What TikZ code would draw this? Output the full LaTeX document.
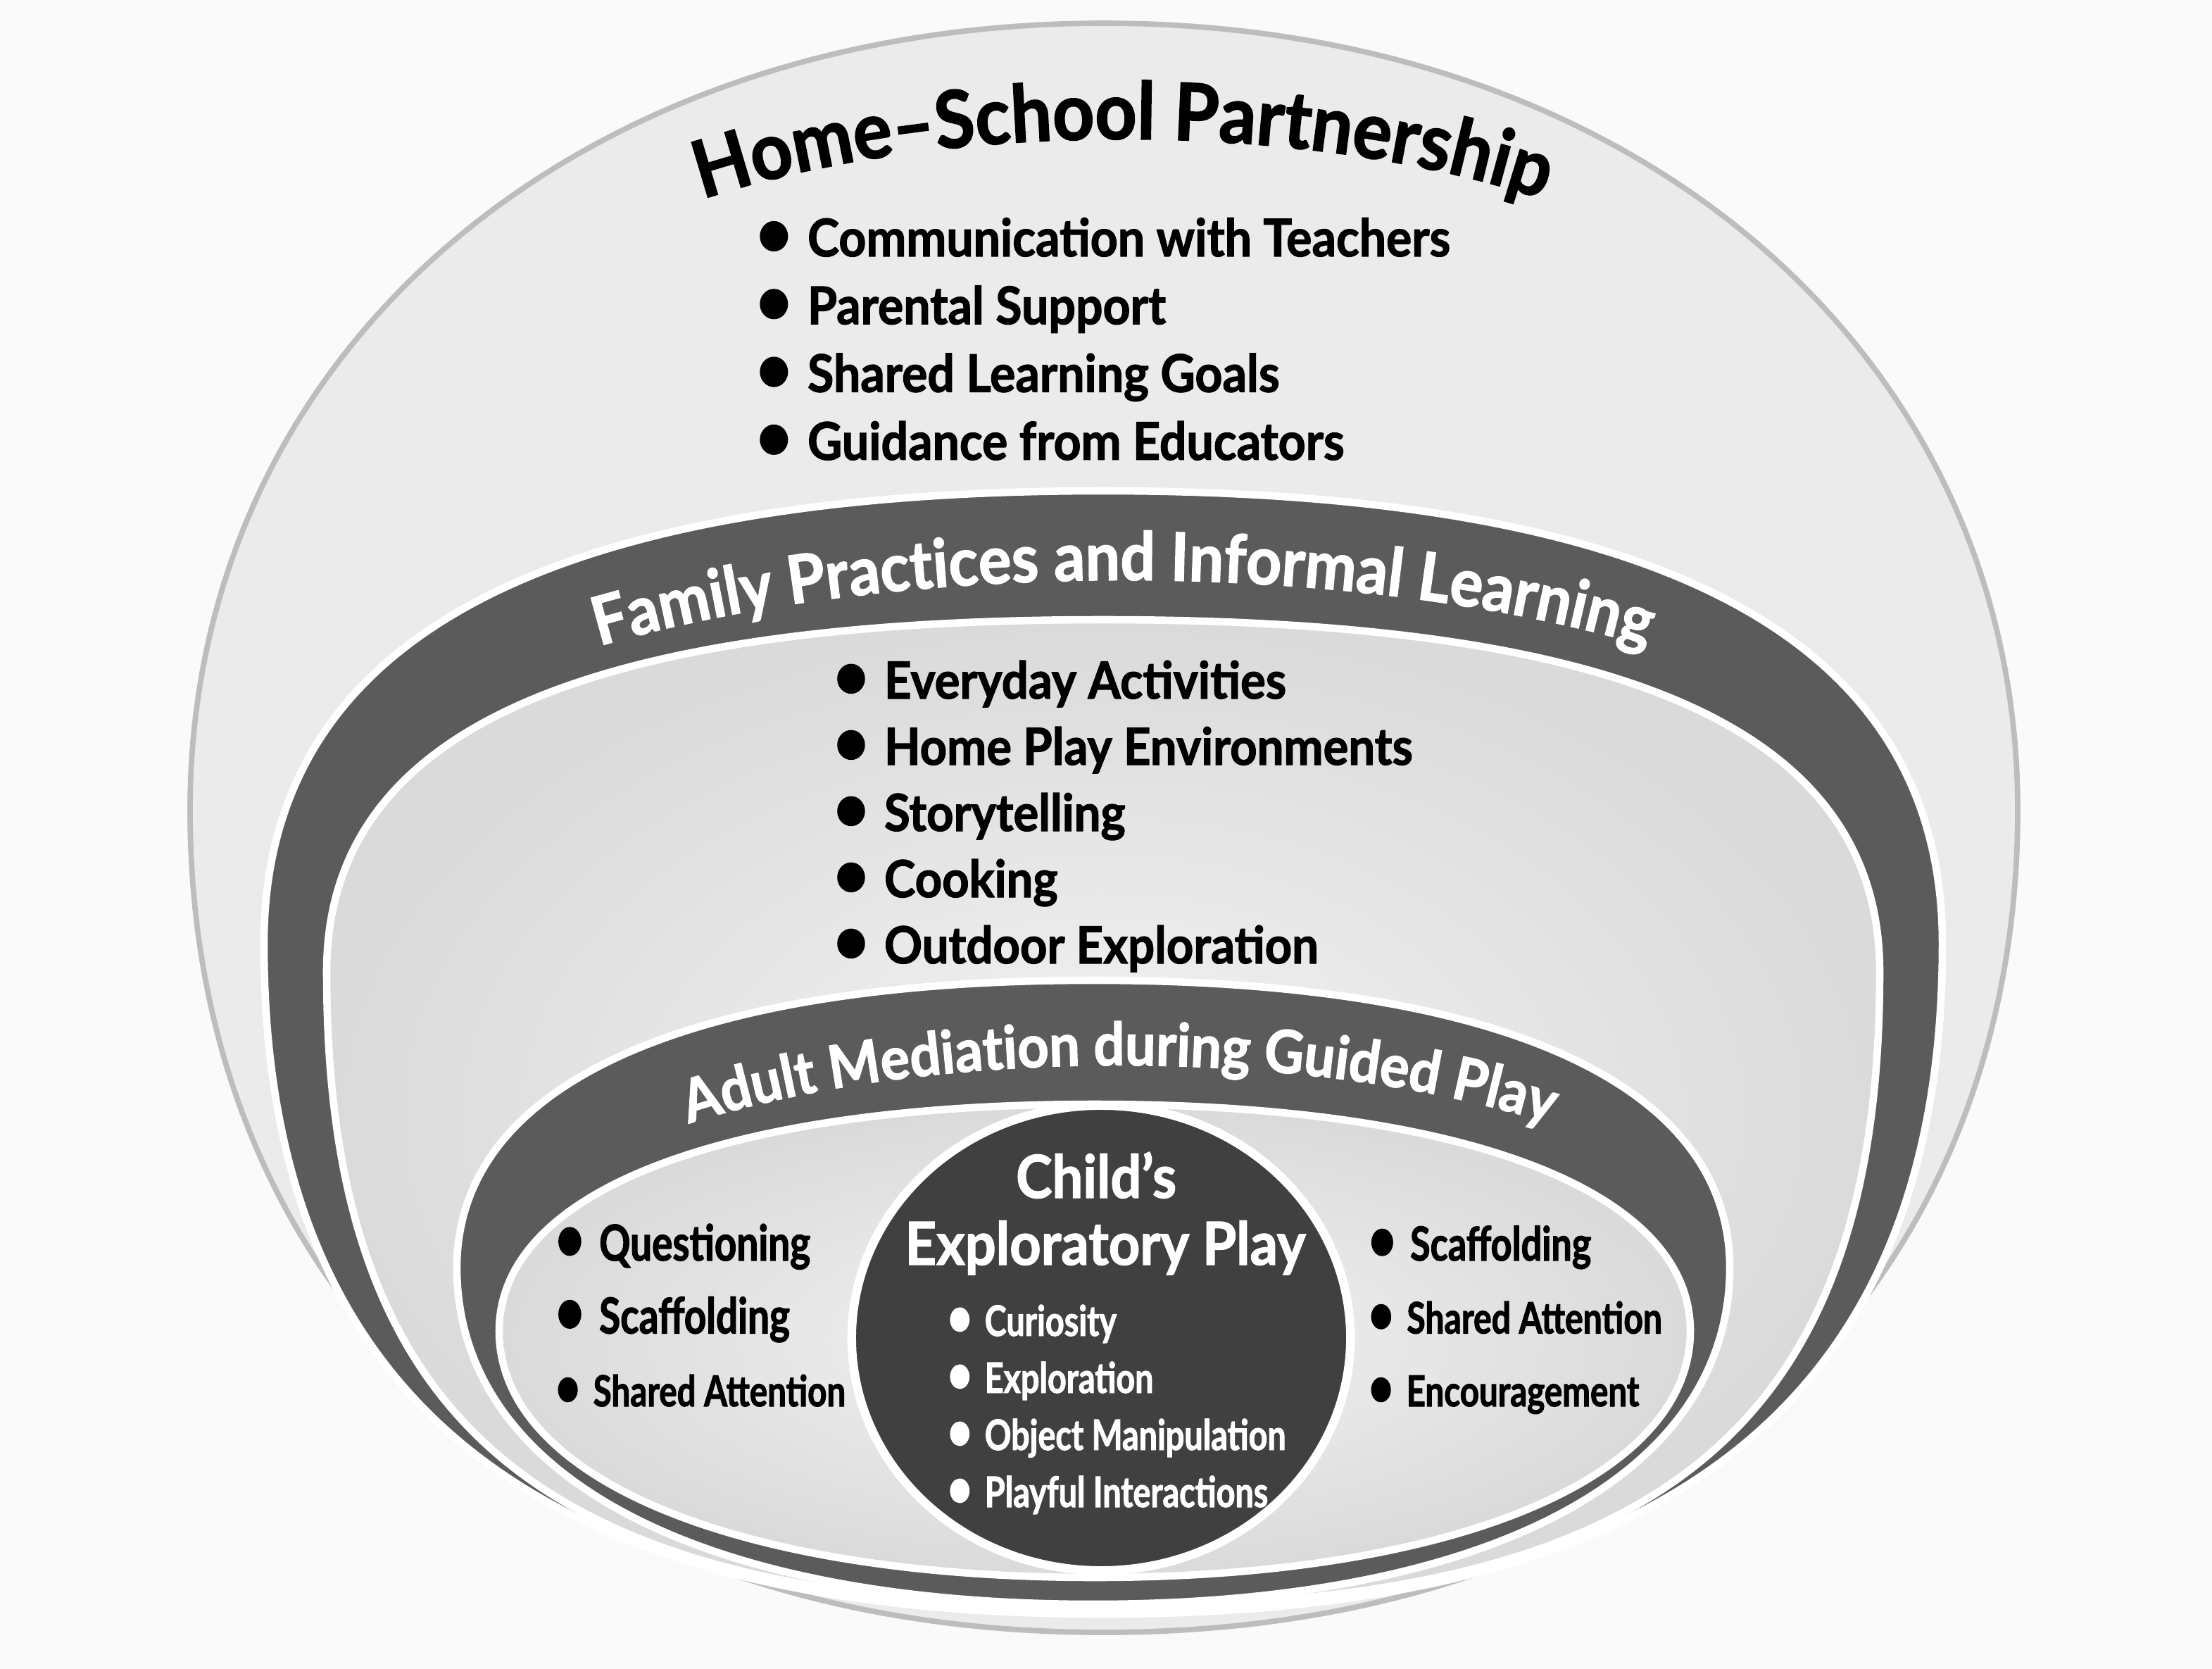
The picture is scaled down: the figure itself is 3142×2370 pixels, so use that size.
\documentclass[tikz,border=0pt]{standalone}
\usepackage{graphicx}
\usepackage{fontspec}
\setmainfont{Lato}[FakeStretch=0.92,BoldFeatures={FakeBold=1.6}]
\newfontfamily\narrowfont{Lato}[FakeStretch=0.78,BoldFeatures={FakeBold=1.6}]
\usetikzlibrary{shapes.geometric,decorations.text}

\definecolor{bgwhite}{HTML}{FAFAFA}
\definecolor{hsfill}{HTML}{EBEBEB}
\definecolor{hsedge}{HTML}{BDBDBD}
\definecolor{bandgray}{HTML}{5B5B5B}
\definecolor{lightin}{HTML}{F4F4F4}
\definecolor{lightout}{HTML}{DADADA}
\definecolor{childgray}{HTML}{404040}

\newcommand{\hsfont}{\fontsize{32}{38}\selectfont\bfseries}
\newcommand{\fpfont}{\fontsize{27}{32}\selectfont\bfseries}
\newcommand{\amfont}{\fontsize{24}{29}\selectfont\bfseries}
\newcommand{\bul}{\scalebox{1.3}{•}\hspace{0.3em}}

% egg: cx, top, widest, bottom, rx, k top, k bottom
\newcommand{\eggpath}[7]{({#1-#5},#3) .. controls ({#1-#5},{#3-#6*(#3-#2)}) and ({#1-#6*#5},#2) .. (#1,#2)
  .. controls ({#1+#6*#5},#2) and ({#1+#5},{#3-#6*(#3-#2)}) .. ({#1+#5},#3)
  .. controls ({#1+#5},{#3+#7*(#4-#3)}) and ({#1+#7*#5},#4) .. (#1,#4)
  .. controls ({#1-#7*#5},#4) and ({#1-#5},{#3+#7*(#4-#3)}) .. cycle}

\begin{document}
\begin{tikzpicture}[x=0.01cm,y=-0.01cm]
        \tikzstyle{band}=[fill=bandgray,draw=white,line width=3pt]
        \tikzstyle{inner}=[inner color=lightin,outer color=lightout,draw=white,line width=3pt]
        \tikzstyle{item}=[anchor=base west,inner sep=0pt,text=black,font=\fontsize{21}{25}\selectfont\bfseries]
        \tikzstyle{sideitem}=[item,font=\fontsize{\fs}{22}\selectfont\narrowfont\bfseries]
        \tikzstyle{whiteitem}=[item,text=white,font=\fontsize{17}{20}\selectfont\narrowfont\bfseries]
        \tikzstyle{childtitle}=[anchor=base,inner sep=0pt,text=white,font=\fontsize{24}{29}\selectfont\bfseries]

        \useasboundingbox (0,0) rectangle (3142,2370);
        \fill[bgwhite] (0,0) rectangle (3142,2370);

        % rings, outside in
        \filldraw[fill=hsfill,draw=hsedge,line width=2.2pt] \eggpath{1568}{33}{1150}{2318}{1298}{0.58}{0.6};
        \path[band] \eggpath{1567}{697}{1340}{2292}{1192}{0.67}{0.68};
        \path[inner] \eggpath{1567}{880}{1380}{2282}{1103}{0.68}{0.72};
        \path[band] \eggpath{1553}{1392}{1800}{2278}{904}{0.64}{0.62};
        \path[inner] \eggpath{1555}{1568}{1890}{2240}{846}{0.62}{0.6};
        \node[ellipse,fill=childgray,draw=white,line width=3.5pt,minimum width=7.08cm,minimum height=6.6cm] (child) at (1564,1900) {};

        % titles
        \path[decorate,decoration={text along path,text align=center,text={|\hsfont|Home–School Partnership}}]
                (925,310) .. controls (1290,160) and (1900,160) .. (2265,310);
        \path[decorate,decoration={text along path,text align=center,text={|\fpfont\color{white}|Family Practices and Informal Learning}}]
                (780,940) .. controls (1230,785) and (1960,785) .. (2410,940);
        \path[decorate,decoration={text along path,text align=center,text={|\amfont\color{white}|Adult Mediation during Guided Play}}]
                (950,1605) .. controls (1305,1482) and (1875,1482) .. (2230,1605);

        \foreach \txt [count=\i from 0] in {Communication with Teachers, Parental Support, Shared Learning Goals, Guidance from Educators}
                \node[item] (HS-\i) at (1073,364+96.3*\i) {\bul\txt};

        \foreach \txt [count=\i from 0] in {Everyday Activities, Home Play Environments, Storytelling, Cooking, Outdoor Exploration}
                \node[item,font=\fontsize{20.7}{25}\selectfont\bfseries] (FP-\i) at (1183,992+94*\i) {\bul\txt};

        \foreach \txt/\fs [count=\i from 0] in {Questioning/20, Scaffolding/20, Shared Attention/17.3}
                \node[sideitem] (AL-\i) at (788,1790+103.5*\i) {\bul\txt};
        \foreach \txt/\fs [count=\i from 0] in {Scaffolding/19, Shared Attention/17.5, Encouragement/17.3}
                \node[sideitem] (AR-\i) at (1943,1790+103.5*\i) {\bul\txt};

        \node[childtitle] (CT-1) at (1557,1701) {Child’s};
        \node[childtitle] (CT-2) at (1570,1796) {Exploratory Play};
        \foreach \txt [count=\i from 0] in {Curiosity, Exploration, Object Manipulation, Playful Interactions}
                \node[whiteitem] (CE-\i) at (1345,1897+81*\i) {\bul\txt};
\end{tikzpicture}
\end{document}
